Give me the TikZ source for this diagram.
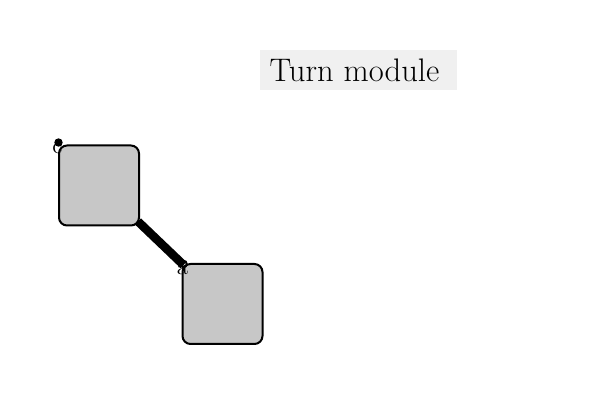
\documentclass[tikz,border=0pt]{standalone}
\usepackage{tikz}

\tikzset{
  modbox/.style={draw,line width=1pt,rounded corners=4pt,fill=black!22,minimum size=40pt,inner sep=0pt},
  portlbl/.style={font=\fontsize{11.5}{13}\selectfont,inner sep=0pt}
}

\begin{document}
\begin{tikzpicture}[x=0.5pt,y=-0.5pt]
\useasboundingbox (0,0) rectangle (600,400);
\node [fill=black!6,minimum width=98.5pt,minimum height=20pt,font=\fontsize{16.3}{19}\selectfont] (title) at (358.5,70) {Turn module\kern4pt};
\node [modbox] (m1) at (99,185.5) {};
\node [modbox] (m2) at (222.5,304) {};
\draw [line width=4.3pt] ([shift={(-2,-5)}]m1.south east) -- ([shift={(2,2)}]m2.north west);
\node [portlbl] (c) at (57.5,148.5) {c};
\node [portlbl] (a) at (182.5,269) {a};
\fill (m1.north west) ++(0.5,-2) circle (2.1pt);
\draw [line width=1pt] (m2.north west) ++(2,1) circle (1.6pt);
\end{tikzpicture}
\end{document}
